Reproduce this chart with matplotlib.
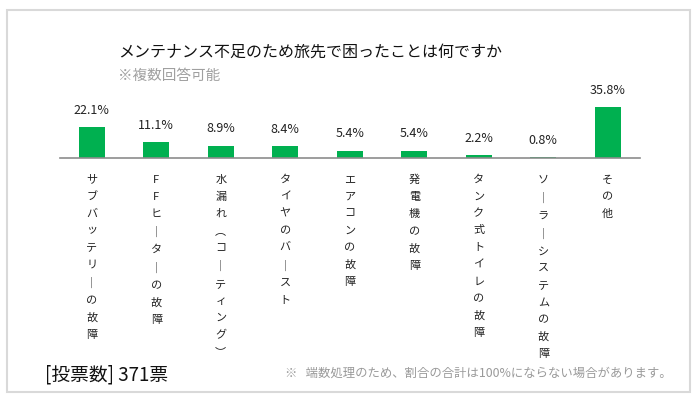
import matplotlib.pyplot as plt
from matplotlib.patches import Rectangle
import numpy as np

plt.rcParams['font.family'] = ['Noto Sans CJK JP', 'DejaVu Sans']

title = 'メンテナンス不足のため旅先で困ったことは何ですか'
subtitle = '※複数回答可能'
categories = ['サブバッテリーの故障', 'FFヒーターの故障', '水漏れ(コーティング)', 'タイヤのバースト',
              'エアコンの故障', '発電機の故障', 'タンク式トイレの故障', 'ソーラーシステムの故障', 'その他']
values = [22.1, 11.1, 8.9, 8.4, 5.4, 5.4, 2.2, 0.8, 35.8]
votes_text = '[投票数] 371票'
note_text = '※   端数処理のため、割合の合計は100%にならない場合があります。'

green = '#00B050'


def vertical(s):
    # stack characters top to bottom, swapping in vertical forms
    swap = {'ー': '｜', '(': '︵', ')': '︶'}
    return '\n'.join(swap.get(c, c) for c in s)


fig = plt.figure(figsize=(7, 4.02), dpi=100)
W, H = 700, 402

# light grey frame around the card
fig.patches.append(Rectangle((7 / W, 1 - 393 / H), 683 / W, 382 / H, transform=fig.transFigure,
                             fill=False, edgecolor='#d9d9d9', linewidth=1.5))

ax = fig.add_axes([59.5 / W, 1 - 159.3 / H, 580.5 / W, 64.3 / H])
x = np.arange(len(values))
ax.bar(x, values, width=0.41, color=green)
ax.set_xlim(-0.5, len(values) - 0.5)
ax.set_ylim(0, 45)
for i, v in zip(x, values):
    ax.annotate(f'{v:.1f}%', (i, v), xytext=(0, 8), textcoords='offset points',
                ha='center', va='bottom', fontsize=9, color='#222222')

for s in ['top', 'right', 'left']:
    ax.spines[s].set_visible(False)
ax.spines['bottom'].set_color('#8c8c8c')
ax.spines['bottom'].set_linewidth(1.2)
ax.set_yticks([])
ax.set_xticks(x)
ax.set_xticklabels([vertical(c) for c in categories], fontsize=8, linespacing=1.87,
                   va='top', color='#222222')
ax.tick_params(axis='x', length=0, pad=11)

fig.text(118 / W, 1 - 52 / H, title, fontsize=11.5, va='center', ha='left', color='#111111')
fig.text(118 / W, 1 - 76 / H, subtitle, fontsize=10.5, va='center', ha='left', color='#a0a0a0')
fig.text(45 / W, 1 - 375 / H, votes_text, fontsize=13.5, va='center', ha='left', color='#111111')
fig.text(285 / W, 1 - 373 / H, note_text, fontsize=8.9, va='center', ha='left', color='#9a9a9a')

fig.savefig('out.png', dpi=100)
